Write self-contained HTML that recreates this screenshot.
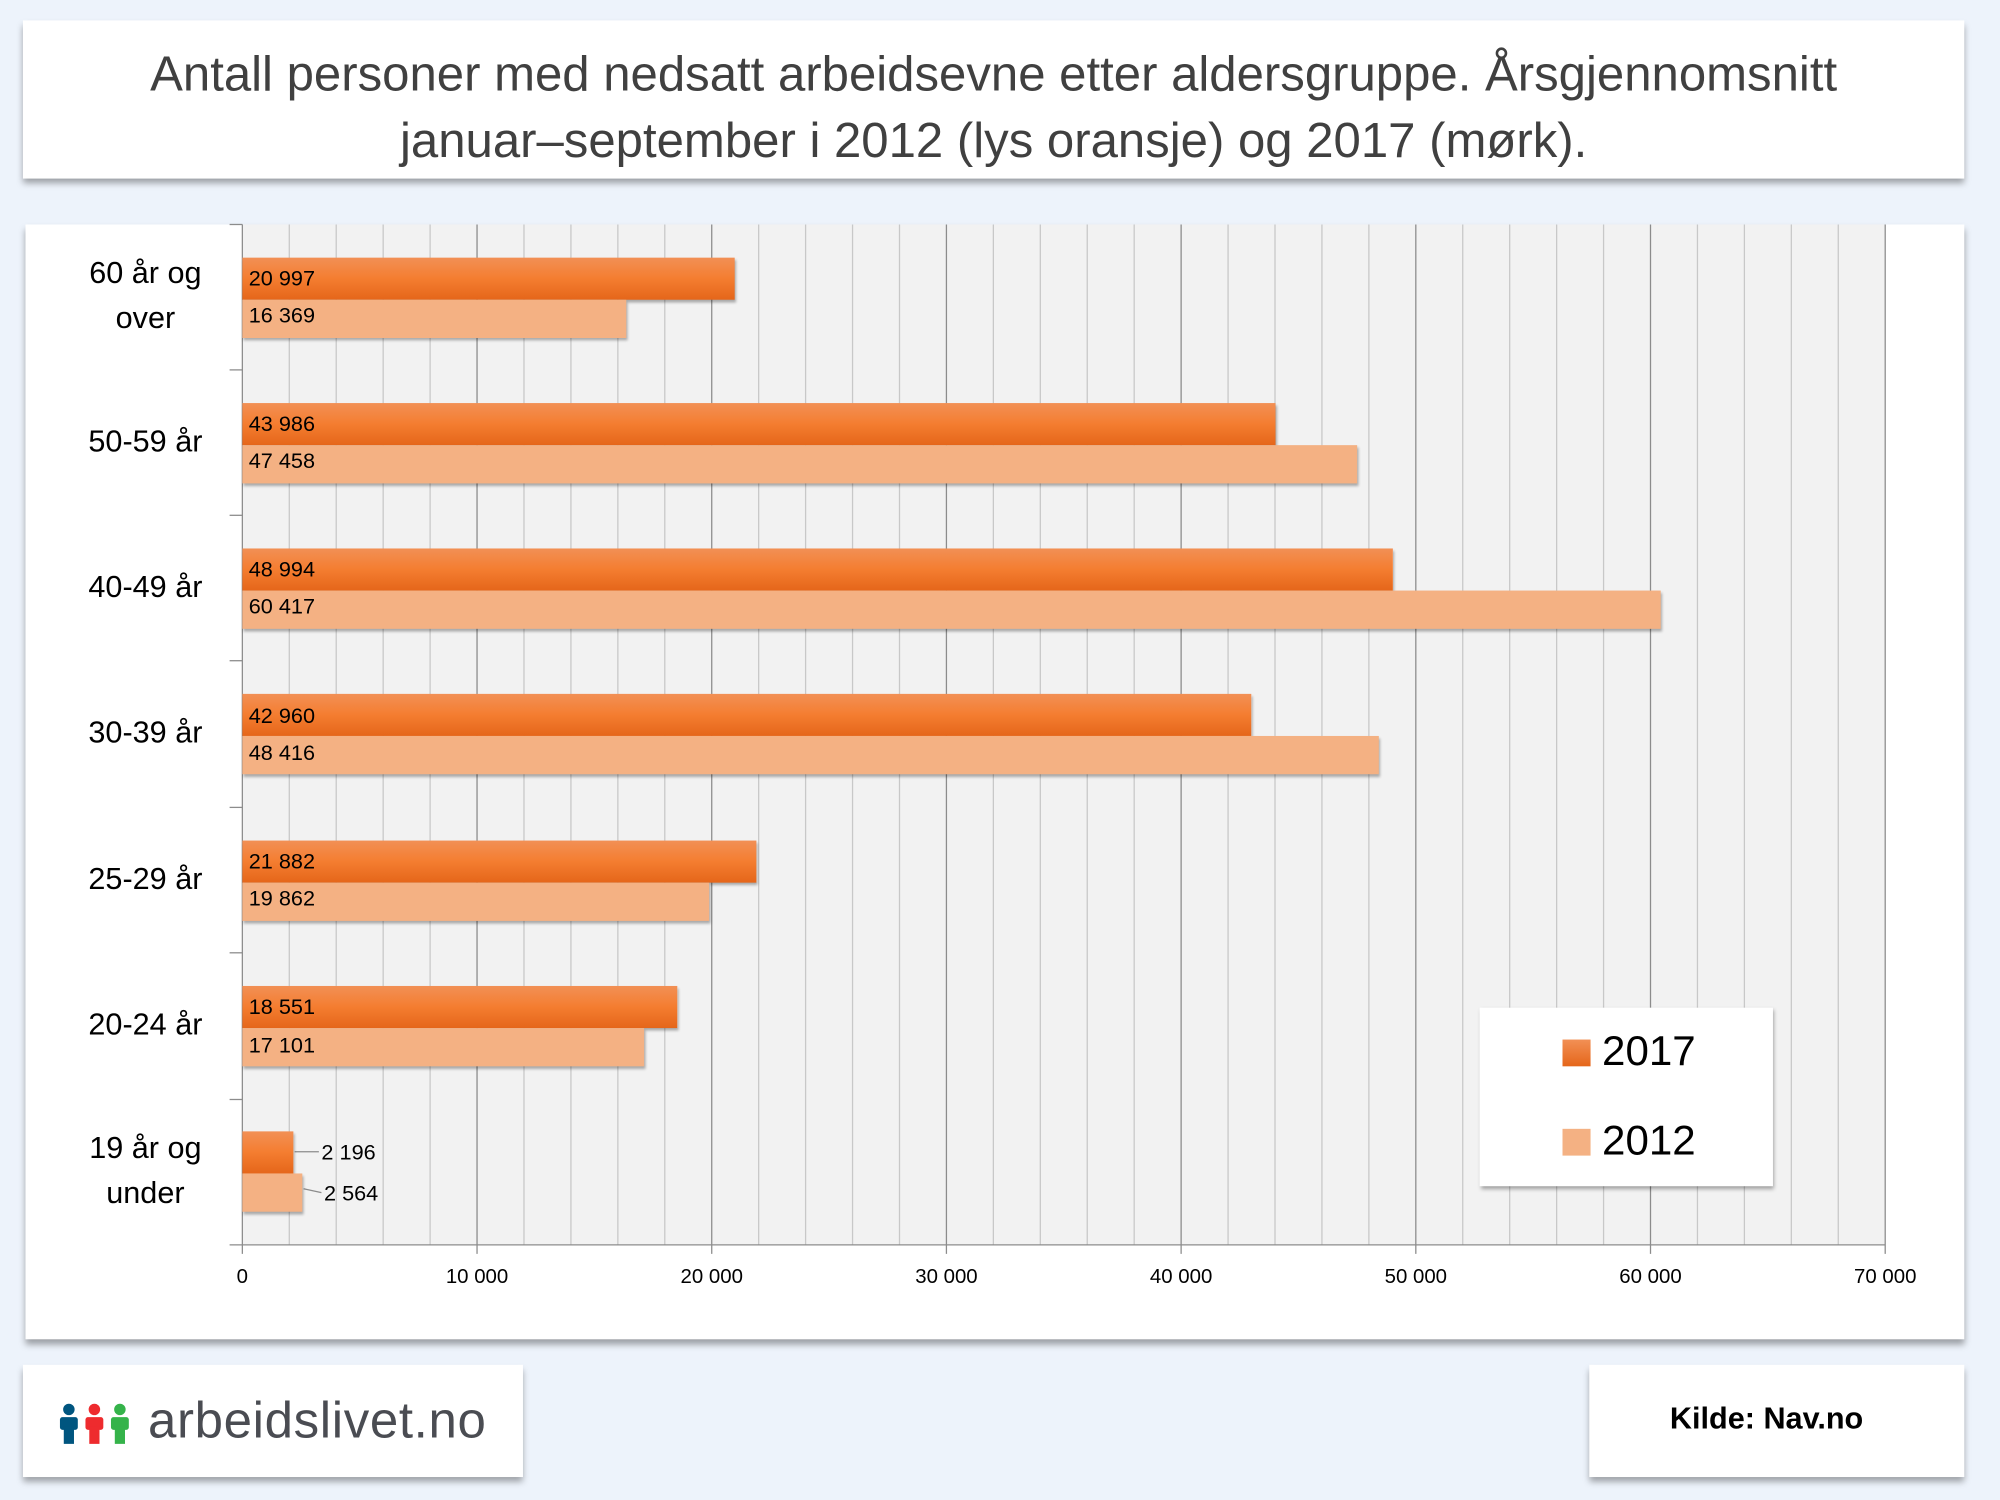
<!DOCTYPE html>
<html><head><meta charset="utf-8"><style>
html,body{margin:0;padding:0;width:2000px;height:1500px;overflow:hidden;background:#edf3fb}
#w{position:absolute;left:0;top:0;width:1568px;height:1176px;transform:scale(1.27551);transform-origin:0 0;font-family:"Liberation Sans",sans-serif}
.box{position:absolute;background:#fff;box-shadow:0 4px 5px rgba(0,0,0,0.35)}
.t{position:absolute;white-space:nowrap}
.bar{position:absolute;left:190px}
.d{background:linear-gradient(#f29055,#f47d30 50%,#e5661a);box-shadow:1px 2px 2px rgba(0,0,0,0.3)}
.l{background:#f4b183;box-shadow:1px 2px 2px rgba(0,0,0,0.3)}
.v{position:absolute;left:195px;font-size:17px;color:#000}
.cat{position:absolute;left:40px;width:148px;text-align:center;font-size:24px;line-height:35px;color:#000}
.ax{position:absolute;top:993px;width:100px;text-align:center;font-size:16px;color:#000}
</style></head><body><div id="w">
<div class="box" style="left:18px;top:16px;width:1522px;height:124px"></div>
<div class="t" style="left:18px;width:1522px;top:33px;text-align:center;font-size:38.5px;color:#404040;line-height:52px;white-space:normal">Antall personer med nedsatt arbeidsevne etter aldersgruppe. Årsgjennomsnitt<br>januar–september i 2012 (lys oransje) og 2017 (mørk).</div>

<div class="box" style="left:20px;top:176px;width:1520px;height:874px"></div>
<svg style="position:absolute;left:0;top:0" width="1568" height="1176">
<rect x="190" y="176" width="1288" height="800" fill="#f2f2f2"/>
<g stroke="#c8c8c8" stroke-width="1">
<line x1="226.8" y1="176" x2="226.8" y2="976"/><line x1="263.6" y1="176" x2="263.6" y2="976"/><line x1="300.4" y1="176" x2="300.4" y2="976"/><line x1="337.2" y1="176" x2="337.2" y2="976"/>
<line x1="410.8" y1="176" x2="410.8" y2="976"/><line x1="447.6" y1="176" x2="447.6" y2="976"/><line x1="484.4" y1="176" x2="484.4" y2="976"/><line x1="521.2" y1="176" x2="521.2" y2="976"/>
<line x1="594.8" y1="176" x2="594.8" y2="976"/><line x1="631.6" y1="176" x2="631.6" y2="976"/><line x1="668.4" y1="176" x2="668.4" y2="976"/><line x1="705.2" y1="176" x2="705.2" y2="976"/>
<line x1="778.8" y1="176" x2="778.8" y2="976"/><line x1="815.6" y1="176" x2="815.6" y2="976"/><line x1="852.4" y1="176" x2="852.4" y2="976"/><line x1="889.2" y1="176" x2="889.2" y2="976"/>
<line x1="962.8" y1="176" x2="962.8" y2="976"/><line x1="999.6" y1="176" x2="999.6" y2="976"/><line x1="1036.4" y1="176" x2="1036.4" y2="976"/><line x1="1073.2" y1="176" x2="1073.2" y2="976"/>
<line x1="1146.8" y1="176" x2="1146.8" y2="976"/><line x1="1183.6" y1="176" x2="1183.6" y2="976"/><line x1="1220.4" y1="176" x2="1220.4" y2="976"/><line x1="1257.2" y1="176" x2="1257.2" y2="976"/>
<line x1="1330.8" y1="176" x2="1330.8" y2="976"/><line x1="1367.6" y1="176" x2="1367.6" y2="976"/><line x1="1404.4" y1="176" x2="1404.4" y2="976"/><line x1="1441.2" y1="176" x2="1441.2" y2="976"/>
</g>
<g stroke="#8c8c8c" stroke-width="1">
<line x1="374" y1="176" x2="374" y2="983"/><line x1="558" y1="176" x2="558" y2="983"/><line x1="742" y1="176" x2="742" y2="983"/><line x1="926" y1="176" x2="926" y2="983"/><line x1="1110" y1="176" x2="1110" y2="983"/><line x1="1294" y1="176" x2="1294" y2="983"/><line x1="1478" y1="176" x2="1478" y2="983"/>
<line x1="190" y1="176" x2="190" y2="983"/>
<line x1="180" y1="976" x2="1478" y2="976"/>
<line x1="180" y1="176" x2="190" y2="176"/><line x1="180" y1="290" x2="190" y2="290"/><line x1="180" y1="404" x2="190" y2="404"/><line x1="180" y1="518" x2="190" y2="518"/><line x1="180" y1="633" x2="190" y2="633"/><line x1="180" y1="747" x2="190" y2="747"/><line x1="180" y1="862" x2="190" y2="862"/>
<line x1="231" y1="903" x2="250" y2="903"/><line x1="238" y1="932" x2="252" y2="935"/>
</g>
</svg>

<div class="bar d" style="top:202px;height:33px;width:386px"></div><div class="bar l" style="top:235px;height:30px;width:301px"></div>
<div class="bar d" style="top:316px;height:33px;width:810px"></div><div class="bar l" style="top:349px;height:30px;width:874px"></div>
<div class="bar d" style="top:430px;height:33px;width:902px"></div><div class="bar l" style="top:463px;height:30px;width:1112px"></div>
<div class="bar d" style="top:544px;height:33px;width:791px"></div><div class="bar l" style="top:577px;height:30px;width:891px"></div>
<div class="bar d" style="top:659px;height:33px;width:403px"></div><div class="bar l" style="top:692px;height:30px;width:366px"></div>
<div class="bar d" style="top:773px;height:33px;width:341px"></div><div class="bar l" style="top:806px;height:30px;width:315px"></div>
<div class="bar d" style="top:887px;height:33px;width:40px"></div><div class="bar l" style="top:920px;height:30px;width:47px"></div>

<div class="v" style="top:209px">20 997</div><div class="v" style="top:238px">16 369</div>
<div class="v" style="top:323px">43 986</div><div class="v" style="top:352px">47 458</div>
<div class="v" style="top:437px">48 994</div><div class="v" style="top:466px">60 417</div>
<div class="v" style="top:552px">42 960</div><div class="v" style="top:581px">48 416</div>
<div class="v" style="top:666px">21 882</div><div class="v" style="top:695px">19 862</div>
<div class="v" style="top:780px">18 551</div><div class="v" style="top:810px">17 101</div>
<div class="v" style="top:894px;left:252px">2 196</div><div class="v" style="top:926px;left:254px">2 564</div>

<div class="cat" style="top:197px">60 år og<br>over</div>
<div class="cat" style="top:329px">50-59 år</div>
<div class="cat" style="top:443px">40-49 år</div>
<div class="cat" style="top:557px">30-39 år</div>
<div class="cat" style="top:672px">25-29 år</div>
<div class="cat" style="top:786px">20-24 år</div>
<div class="cat" style="top:883px">19 år og<br>under</div>

<div class="ax" style="left:140px">0</div><div class="ax" style="left:324px">10 000</div><div class="ax" style="left:508px">20 000</div><div class="ax" style="left:692px">30 000</div><div class="ax" style="left:876px">40 000</div><div class="ax" style="left:1060px">50 000</div><div class="ax" style="left:1244px">60 000</div><div class="ax" style="left:1428px">70 000</div>

<div class="box" style="left:1160px;top:790px;width:230px;height:140px;box-shadow:1px 2px 3px rgba(0,0,0,0.35)"></div>
<div style="position:absolute;left:1225px;top:815px;width:22px;height:21px;background:linear-gradient(#f29055,#e5661a)"></div>
<div style="position:absolute;left:1225px;top:885px;width:22px;height:21px;background:#f4b183"></div>
<div class="t" style="left:1256px;top:805px;font-size:33px;color:#000">2017</div>
<div class="t" style="left:1256px;top:875px;font-size:33px;color:#000">2012</div>

<div class="box" style="left:18px;top:1070px;width:392px;height:88px"></div>
<svg style="position:absolute;left:45px;top:1100px" width="60" height="34">
<g fill="#00557f"><circle cx="9" cy="5" r="4.5"/><rect x="2" y="11" width="14" height="10" rx="2"/><rect x="5" y="18" width="8" height="14"/></g>
<g fill="#ee2b2e"><circle cx="29" cy="5" r="4.5"/><rect x="22" y="11" width="14" height="10" rx="2"/><rect x="25" y="18" width="8" height="14"/></g>
<g fill="#35b34a"><circle cx="49" cy="5" r="4.5"/><rect x="42" y="11" width="14" height="10" rx="2"/><rect x="45" y="18" width="8" height="14"/></g>
</svg>
<div class="t" style="left:116px;top:1092px;font-size:40px;color:#4a4c52;letter-spacing:0.5px">arbeidslivet.no</div>

<div class="box" style="left:1246px;top:1070px;width:294px;height:88px"></div>
<div class="t" style="left:1246px;width:278px;top:1099px;text-align:center;font-size:24px;font-weight:bold;color:#000">Kilde: Nav.no</div>
</div></body></html>
